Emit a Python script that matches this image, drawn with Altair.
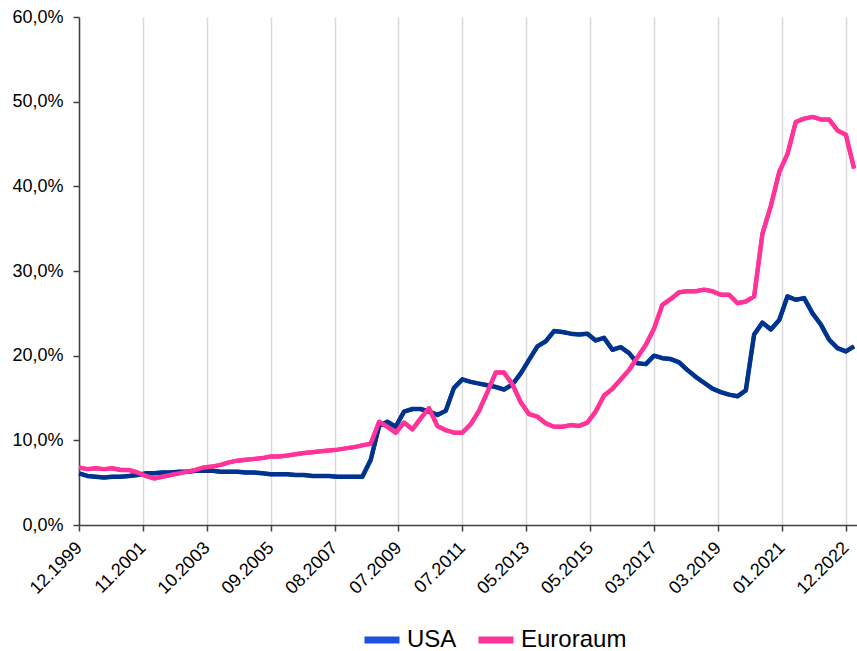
import altair as alt
import pandas as pd

# Quarter-end dates, Q4 1999 .. Q1 2023
quarter_ends = [(3, 31), (6, 30), (9, 30), (12, 31)]
dates = ["1999-12-31"]
for year in range(2000, 2023):
    for m, d in quarter_ends:
        dates.append(f"{year}-{m:02d}-{d:02d}")
dates.append("2023-03-31")

usa = [
    6.1,
    5.8, 5.7, 5.6, 5.7,
    5.7, 5.8, 5.9, 6.1,
    6.1, 6.2, 6.2, 6.3,
    6.3, 6.4, 6.4, 6.4,
    6.3, 6.3, 6.3, 6.2,
    6.2, 6.1, 6.0, 6.0,
    6.0, 5.9, 5.9, 5.8,
    5.8, 5.8, 5.7, 5.7,
    5.7, 5.7, 7.7, 11.7,
    12.2, 11.6, 13.4, 13.7,
    13.7, 13.4, 13.0, 13.5,
    16.2, 17.2, 16.9, 16.7,
    16.5, 16.3, 16.0, 16.6,
    17.9, 19.5, 21.1, 21.7,
    22.9, 22.8, 22.6, 22.5,
    22.6, 21.8, 22.1, 20.7,
    21.0, 20.3, 19.1, 19.0,
    20.0, 19.7, 19.6, 19.2,
    18.3, 17.5, 16.8, 16.1,
    15.7, 15.4, 15.2, 15.9,
    22.5, 23.9, 23.1, 24.2,
    27.0, 26.6, 26.8, 25.0,
    23.7, 21.9, 20.9, 20.5,
    21.1,
]

euroraum = [
    6.8,
    6.6, 6.7, 6.6, 6.7,
    6.5, 6.5, 6.2, 5.8,
    5.5, 5.7, 5.9, 6.1,
    6.3, 6.5, 6.8, 6.9,
    7.1, 7.4, 7.6, 7.7,
    7.8, 7.9, 8.1, 8.1,
    8.2, 8.35, 8.5, 8.6,
    8.7, 8.8, 8.9, 9.05,
    9.2, 9.4, 9.6, 12.2,
    11.6, 10.9, 12.1, 11.3,
    12.6, 13.8, 11.7, 11.2,
    10.9, 10.9, 11.9, 13.5,
    15.7, 18.0, 18.0, 16.6,
    14.5, 13.1, 12.8, 12.0,
    11.6, 11.6, 11.8, 11.7,
    12.1, 13.4, 15.3, 16.1,
    17.2, 18.3, 19.8, 21.3,
    23.2, 26.0, 26.7, 27.5,
    27.6, 27.6, 27.8, 27.6,
    27.2, 27.2, 26.2, 26.4,
    27.0, 34.4, 37.7, 41.7,
    43.8, 47.6, 48.0, 48.2,
    47.9, 47.9, 46.6, 46.1,
    42.1,
]

series_names = ["USA", "Euroraum"]
line_colors = ["#00338D", "#FF3399"]
legend_colors = ["#1F4FE0", "#FF3399"]

# Date-axis ticks, one every 700 days from 31.12.1999
tick_dates = [
    (1999, 12, 31), (2001, 11, 30), (2003, 10, 31), (2005, 9, 30),
    (2007, 8, 31), (2009, 7, 31), (2011, 7, 1), (2013, 5, 31),
    (2015, 5, 1), (2017, 3, 31), (2019, 3, 1), (2021, 1, 29),
    (2022, 12, 30),
]
y_ticks = [0, 10, 20, 30, 40, 50, 60]

rows = []
for name, values in zip(series_names, [usa, euroraum]):
    for dt, v in zip(dates, values):
        rows.append({"date": dt, "series": name, "value": v})
df = pd.DataFrame(rows)

font = "Liberation Sans"

x_enc = alt.X(
    "date:T",
    scale=alt.Scale(
        type="utc",
        domain=[
            alt.DateTime(year=1999, month=12, date=31, utc=True),
            alt.DateTime(year=2023, month=5, date=2, utc=True),
        ],
        nice=False,
    ),
    axis=alt.Axis(
        values=[alt.DateTime(year=y, month=m, date=d, utc=True) for y, m, d in tick_dates],
        labelExpr="utcFormat(datum.value, '%m.%Y')",
        labelAngle=-45,
        labelAlign="right",
        labelBaseline="middle",
        labelFont=font,
        labelFontSize=18,
        labelColor="#000000",
        labelPadding=14,
        labelOverlap=False,
        labelFlush=False,
        tickSize=6,
        tickColor="#404040",
        tickWidth=1.5,
        domainColor="#404040",
        domainWidth=1.5,
        grid=True,
        gridColor="#D9D9D9",
        gridWidth=1.5,
        title=None,
    ),
)

y_enc = alt.Y(
    "value:Q",
    scale=alt.Scale(domain=[0, 60], nice=False),
    axis=alt.Axis(
        values=y_ticks,
        labelExpr="replace(format(datum.value, '.1f'), '.', ',') + '%'",
        labelFont=font,
        labelFontSize=18,
        labelColor="#000000",
        labelPadding=10,
        tickSize=6,
        tickColor="#404040",
        tickWidth=1.5,
        domainColor="#404040",
        domainWidth=1.5,
        grid=False,
        title=None,
    ),
)

# Lower layer carries the legend colours
legend_layer = alt.Chart(df).mark_line(strokeWidth=4, strokeJoin="round").encode(
    x=x_enc,
    y=y_enc,
    color=alt.Color(
        "series:N",
        sort=series_names,
        scale=alt.Scale(domain=series_names, range=legend_colors),
        legend=alt.Legend(
            title=None,
            orient="none",
            legendX=282,
            legendY=602,
            direction="horizontal",
            gridAlign="none",
            symbolType="stroke",
            symbolSize=1225,
            symbolStrokeWidth=7,
            labelFont=font,
            labelFontSize=24,
            labelColor="#000000",
            labelOffset=4,
            columnPadding=7,
            padding=0,
        ),
    ),
)

lines = alt.Chart(df).mark_line(strokeWidth=4.5, strokeJoin="round").encode(
    x=x_enc,
    y=y_enc,
    stroke=alt.Stroke(
        "series:N",
        sort=series_names,
        scale=alt.Scale(domain=series_names, range=line_colors),
        legend=None,
    ),
)

chart = (
    alt.layer(legend_layer, lines)
    .properties(
        width=778,
        height=508,
        padding={"left": 79, "top": 17, "right": 0, "bottom": 126},
        autosize=alt.AutoSizeParams(type="none"),
        background="white",
    )
    .configure_view(stroke=None)
)

chart.save("out.html", embed_options={"renderer": "svg", "actions": False})
